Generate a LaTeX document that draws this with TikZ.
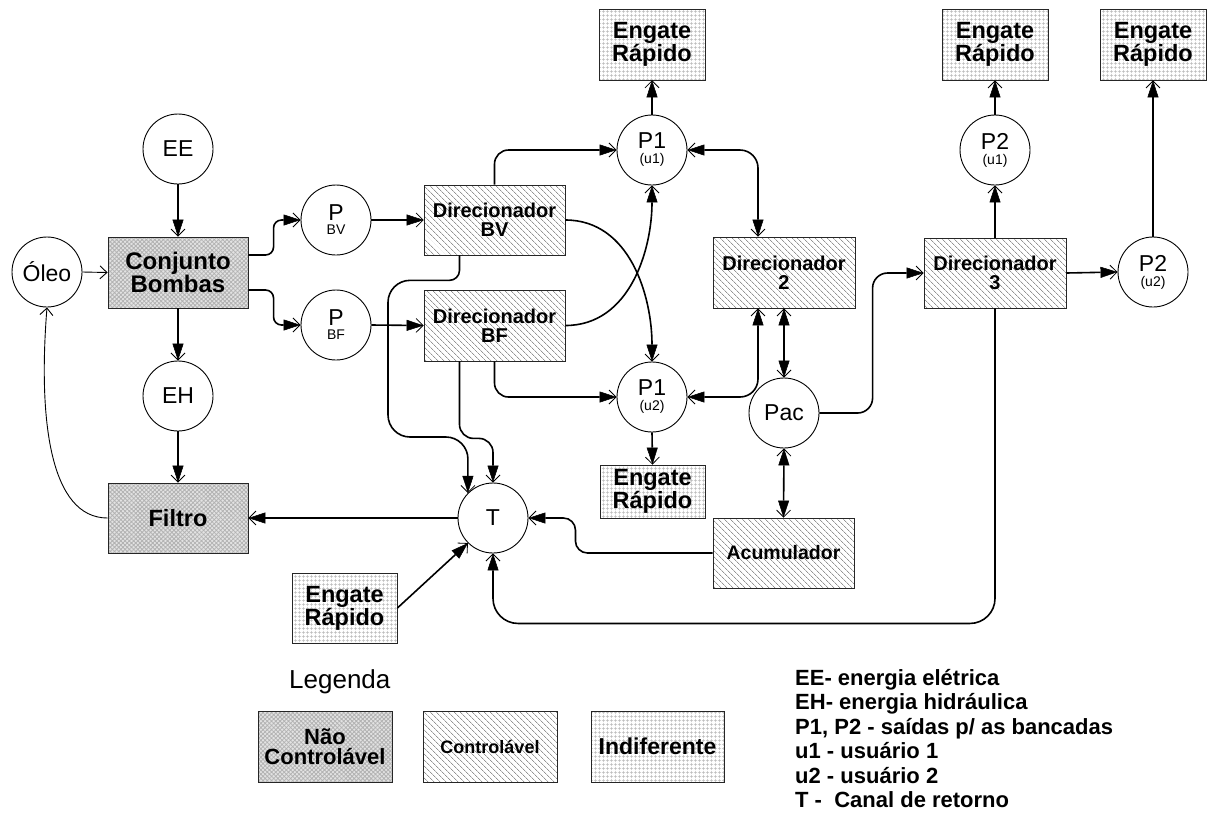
\documentclass[tikz,border=0pt]{standalone}
\usepackage{fontspec}
\setmainfont{Liberation Sans}
\usetikzlibrary{arrows.meta,patterns.meta}
\tikzset{
  Hd/.tip={Straight Barb[length=7pt,width=14pt,line width=0.8pt,sep=-17pt] Triangle[length=17pt,width=11pt,line width=0.5pt]},
  Op/.tip={Straight Barb[length=7pt,width=13pt,line width=0.9pt]}
}
\newcommand{\sublbl}[2]{#1\\[-8pt]{\fontsize{14}{14}\selectfont #2}}
\begin{document}
\begin{tikzpicture}[x=1pt,y=-1pt,
  circ/.style={circle,draw,line width=0.9pt,minimum size=70pt,inner sep=0pt,align=center,font=\fontsize{23}{23}\selectfont},
  boxbase/.style={rectangle,draw=black!85,line width=0.8pt,inner sep=0pt,align=center},
  nc/.style={boxbase,preaction={fill=gray!22},pattern={Hatch[angle=45,distance=3pt,line width=0.8pt]},pattern color=gray!60},
  ctl/.style={boxbase,preaction={fill=white},pattern={Lines[angle=-45,distance=4pt,line width=0.7pt]},pattern color=gray!85},
  ind/.style={boxbase,preaction={fill=white},pattern={Hatch[angle=0,distance=4pt,line width=0.5pt]},pattern color=gray!55},
  conn/.style={line width=1.6pt,-{Hd}},
  dbl/.style={line width=1.6pt,{Hd}-{Hd}},
  thinarr/.style={line width=0.9pt,-{Op}},
  dirfont/.style={font=\bfseries\fontsize{20}{19}\selectfont},
  lgd/.style={anchor=base west,inner sep=0pt,font=\bfseries\fontsize{22}{22}\selectfont}
]
\useasboundingbox (0,0) rectangle (1207,823);

% circles
\node[circ] (EE) at (178,149) {EE};
\node[circ] (Oleo) at (47,272) {Óleo};
\node[circ] (EH) at (178,396) {EH};
\node[circ] (PBV) at (336,220) {P\\[-9pt]{\fontsize{14}{14}\selectfont BV}};
\node[circ] (PBF) at (336,325) {P\\[-9pt]{\fontsize{14}{14}\selectfont BF}};
\node[circ] (T) at (493,518) {T};
\node[circ] (P1a) at (652,150) {\sublbl{P1}{(u1)}};
\node[circ] (P1b) at (652,397) {\sublbl{P1}{(u2)}};
\node[circ] (Pac) at (784,413) {Pac};
\node[circ] (P2a) at (995,150) {\sublbl{P2}{(u1)}};
\node[circ] (P2b) at (1153,272) {\sublbl{P2}{(u2)}};

% boxes
\node[nc,minimum width=140pt,minimum height=71pt,font=\bfseries\fontsize{24}{21}\selectfont] (CB) at (178,272.5) {Conjunto\\Bombas};
\node[nc,minimum width=140pt,minimum height=70pt,font=\bfseries\fontsize{23.5}{20}\selectfont] (FI) at (178,518) {Filtro};
\node[ctl,dirfont,minimum width=141pt,minimum height=70pt] (DBV) at (494.5,220) {Direcionador\\BV};
\node[ctl,dirfont,minimum width=141pt,minimum height=71pt] (DBF) at (494.5,325.5) {Direcionador\\BF};
\node[ctl,dirfont,minimum width=142pt,minimum height=71pt] (D2) at (784,272.5) {Direcionador\\2};
\node[ctl,dirfont,minimum width=142pt,minimum height=70pt] (D3) at (995,273) {Direcionador\\3};
\node[ctl,minimum width=141pt,minimum height=70pt,font=\bfseries\fontsize{19.5}{15}\selectfont] (ACU) at (783.5,553) {Acumulador};
\node[ind,minimum width=106pt,minimum height=71pt,font=\bfseries\fontsize{23.5}{20}\selectfont] (ER1) at (652,44.5) {Engate\\Rápido};
\node[ind,minimum width=106pt,minimum height=71pt,font=\bfseries\fontsize{23.5}{20}\selectfont] (ER4) at (995,44.5) {Engate\\Rápido};
\node[ind,minimum width=106pt,minimum height=71pt,font=\bfseries\fontsize{23.5}{20}\selectfont] (ER5) at (1153,44.5) {Engate\\Rápido};
\node[ind,minimum width=105pt,minimum height=53pt,font=\bfseries\fontsize{23.5}{20}\selectfont] (ER3) at (652.5,491.5) {Engate\\Rápido};
\node[ind,minimum width=105pt,minimum height=70pt,font=\bfseries\fontsize{23.5}{20}\selectfont] (ERb) at (344.5,608) {Engate\\Rápido};

% connectors
\draw[conn] (EE.south) -- (CB.north);
\draw[thinarr] (Oleo.east) -- (CB.west);
\draw[conn,rounded corners=8pt] ([yshift=17.5pt]CB.east) -| ([xshift=-27pt]PBV.west) -- (PBV.west);
\draw[conn,rounded corners=8pt] ([yshift=-17.5pt]CB.east) -| ([xshift=-27pt]PBF.west) -- (PBF.west);
\draw[conn] (CB.south) -- (EH.north);
\draw[conn] (EH.south) -- (FI.north);
\draw[thinarr] (FI.west) .. controls (50,518) and (38,420) .. (Oleo.south);
\draw[conn] (PBV.east) -- (DBV.west);
\draw[conn] (PBF.east) -- (DBF.west);
\draw[conn,rounded corners=14pt] (DBV.north) |- (P1a.west);
\draw[conn] (DBV.east) to[out=0,in=90] (P1b.north);
\draw[conn] (DBF.east) to[out=0,in=-90] (P1a.south);
\draw[conn,rounded corners=14pt] (DBF.south) |- (P1b.west);
\draw[conn,rounded corners=14pt] ([xshift=-35pt]DBF.south) -- ++(0,77) -| (T.north);
\draw[conn,rounded corners=10pt] ([xshift=-35pt]DBV.south) -- ++(0,25) [rounded corners=22pt] -| (388,437) -| (T.north west);
\draw[conn] (T.west) -- (FI.east);
\draw[conn] (ERb.east) -- (T.south west);
\draw[conn,rounded corners=12pt] (ACU.west) -| ([xshift=47pt]T.east) -- (T.east);
\draw[conn,rounded corners=25pt] (D3.south) |- ([yshift=-70pt]T.south) -- (T.south);
\draw[conn] (P1a.north) -- (ER1.south);
\draw[conn] (P1b.south) -- (ER3.north);
\draw[dbl,rounded corners=18pt] (P1a.east) -| ([xshift=-26pt]D2.north);
\draw[dbl,rounded corners=18pt] (P1b.east) -| ([xshift=-26pt]D2.south);
\draw[dbl] (D2.south) -- (Pac.north);
\draw[dbl] (Pac.south) -- (ACU.north);
\draw[conn,rounded corners=15pt] (Pac.east) -| ([xshift=-51pt]D3.west) -- (D3.west);
\draw[conn] (D3.north) -- (P2a.south);
\draw[conn] (P2a.north) -- (ER4.south);
\draw[conn] (D3.east) -- (P2b.west);
\draw[conn] (P2b.north) -- (ER5.south);

% legend
\node[font=\fontsize{26}{26}\selectfont,anchor=base west,inner sep=0pt] (leg) at (289,688) {Legenda};
\node[nc,minimum width=134pt,minimum height=71pt,font=\bfseries\fontsize{22}{20}\selectfont] (Lnc) at (325,746.5) {Não\\Controlável};
\node[ctl,minimum width=134pt,minimum height=71pt,font=\bfseries\fontsize{18}{18}\selectfont] (Lct) at (490,746.5) {Controlável};
\node[ind,minimum width=133pt,minimum height=71pt,font=\bfseries\fontsize{23}{23}\selectfont] (Lin) at (657.5,746.5) {Indiferente};

\node[lgd] (l1) at (795,685) {EE- energia elétrica};
\node[lgd] (l2) at (795,709.5) {EH- energia hidráulica};
\node[lgd] (l3) at (795,734) {P1, P2 - saídas p/ as bancadas};
\node[lgd] (l4) at (795,758.5) {u1 - usuário 1};
\node[lgd] (l5) at (795,783) {u2 - usuário 2};
\node[lgd] (l6) at (795,807.5) {T -\ \ Canal de retorno};
\end{tikzpicture}
\end{document}
